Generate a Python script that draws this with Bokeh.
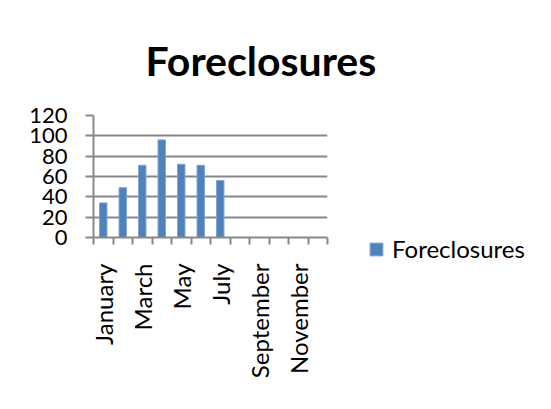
import numpy as np
from bokeh.plotting import figure
from bokeh.models import (ColumnDataSource, FixedTicker, Legend, LegendItem, Range1d)
from bokeh.embed import file_html
from bokeh.resources import INLINE

months = ["January", "February", "March", "April", "May", "June", "July",
          "August", "September", "October", "November", "December"]
values = [34, 49, 71, 96, 72, 71, 56]
series_name = "Foreclosures"
title_text = "Foreclosures"
y_ticks = [0, 20, 40, 60, 80, 100, 120]

FONT = "Lato"
BAR = "#4F81BD"
GRID = "#878787"

p = figure(frame_width=234, frame_height=122, output_backend="svg", toolbar_location=None,
           x_range=Range1d(0, len(months)), y_range=Range1d(0, 120),
           min_border_left=93, min_border_right=200, min_border_top=115,
           min_border_bottom=156)
p.outline_line_color = None
p.background_fill_color = "white"
p.border_fill_color = "white"

pos = np.arange(len(values)) + 0.5
src = ColumnDataSource(dict(x=pos, top=values))
bars = p.vbar(x="x", top="top", width=0.38, bottom=0, source=src,
              fill_color=BAR, line_color="#7FA3CF", line_width=1)

# title
p.title.text = title_text
p.title.text_font = FONT
p.title.text_font_style = "bold"
p.title.text_font_size = "41px"
p.title.text_color = "black"
p.title.align = "left"
p.title.offset = 52
p.title.standoff = 62

# grid
p.xgrid.visible = False
p.ygrid.ticker = FixedTicker(ticks=y_ticks)
p.ygrid.grid_line_color = GRID
p.ygrid.grid_line_width = 2

# y axis
p.yaxis.ticker = FixedTicker(ticks=y_ticks)
p.yaxis.axis_line_color = GRID
p.yaxis.axis_line_width = 2
p.yaxis.major_tick_line_color = GRID
p.yaxis.major_tick_line_width = 2
p.yaxis.major_tick_out = 8
p.yaxis.major_tick_in = 0
p.yaxis.minor_tick_line_color = None
p.yaxis.major_label_text_font = FONT
p.yaxis.major_label_text_font_size = "22px"
p.yaxis.major_label_text_color = "black"
p.yaxis.major_label_standoff = 18

# x axis: labels at every other month centre, ticks at month boundaries
label_pos = [i + 0.5 for i in range(0, len(months), 2)]
p.xaxis.ticker = FixedTicker(ticks=label_pos, minor_ticks=list(range(len(months) + 1)))
p.xaxis.major_label_overrides = {i + 0.5: months[i] for i in range(0, len(months), 2)}
p.xaxis.major_label_orientation = np.pi / 2
p.xaxis.major_tick_line_color = None
p.xaxis.major_tick_out = 0
p.xaxis.major_tick_in = 0
p.xaxis.minor_tick_line_color = GRID
p.xaxis.minor_tick_line_width = 2
p.xaxis.minor_tick_out = 7
p.xaxis.minor_tick_in = 0
p.xaxis.axis_line_color = GRID
p.xaxis.axis_line_width = 2
p.xaxis.major_label_text_font = FONT
p.xaxis.major_label_text_font_size = "24px"
p.xaxis.major_label_text_color = "black"
p.xaxis.major_label_standoff = 19

legend = Legend(items=[LegendItem(label=series_name, renderers=[bars])],
                location=(41, -26), orientation="vertical",
                border_line_color=None, background_fill_alpha=0,
                padding=0, margin=0, spacing=0,
                glyph_width=16, glyph_height=16, label_standoff=8,
                label_text_font=FONT, label_text_font_size="24px",
                label_text_color="black", label_height=16)
p.add_layout(legend, "right")

open("out.html", "w").write(file_html(p, INLINE))
